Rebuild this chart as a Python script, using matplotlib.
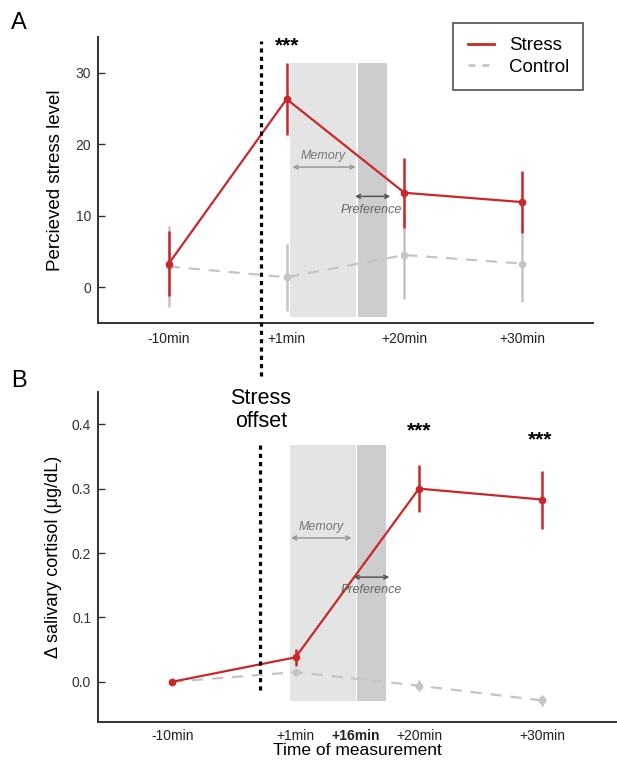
import matplotlib.pyplot as plt
import numpy as np

plt.rcParams['font.family'] = ['Liberation Sans', 'DejaVu Sans']

# ---- data ----
labels_a = ['-10min', '+1min', '+20min', '+30min']
stress_a = [3.3, 26.3, 13.2, 11.9]
stress_a_err = [4.5, 5.0, 4.9, 4.3]
control_a = [2.9, 1.4, 4.5, 3.3]
control_a_err = [5.6, 4.7, 6.2, 5.3]

labels_b = ['-10min', '+1min', '+16min', '+20min', '+30min']
stress_b = [0.0, 0.038, 0.300, 0.283]
stress_b_err = [0.0, 0.013, 0.037, 0.045]
control_b = [0.0, 0.015, -0.006, -0.029]
control_b_err = [0.0, 0.005, 0.008, 0.008]

RED = '#c8282a'
GREY = '#c4c4c4'
LIGHT = '#e4e4e4'
DARK = '#cdcdcd'
SPINE = '#333333'


def style_axes(ax, xpad):
    for s in ['top', 'right']:
        ax.spines[s].set_visible(False)
    for s in ['left', 'bottom']:
        ax.spines[s].set_color(SPINE)
        ax.spines[s].set_linewidth(1.4)
    ax.tick_params(axis='y', direction='in', length=5, width=1, colors=SPINE,
                   labelsize=10, pad=5)
    ax.tick_params(axis='x', length=0, labelsize=10, pad=xpad, colors='#222222')


def plot_series(ax, x, stress, stress_err, control, control_err):
    ax.errorbar(x, control, yerr=control_err, color=GREY, ls=(0, (5, 4)), lw=1.6,
                marker='o', ms=4.5, elinewidth=1.8, capsize=0, zorder=3)
    ax.errorbar(x, stress, yerr=stress_err, color=RED, ls='-', lw=1.6,
                marker='o', ms=4.5, elinewidth=1.8, capsize=0, zorder=4)


def draw_windows(ax, light, dark, y0, y1):
    ax.fill_between(light, y0, y1, color=LIGHT, lw=0, zorder=1)
    ax.fill_between(dark, y0, y1, color=DARK, lw=0, zorder=1)


def arrow(ax, x0, x1, y, color):
    ax.annotate('', xy=(x0, y), xytext=(x1, y),
                arrowprops=dict(arrowstyle='<->', color=color, lw=1.1,
                                mutation_scale=7, shrinkA=0, shrinkB=0),
                zorder=2)


fig = plt.figure(figsize=(6.17, 7.63), dpi=100)

# ---- panel A ----
ax1 = fig.add_axes([0.159, 0.5767, 0.802, 0.375])
xa = np.arange(len(labels_a))
draw_windows(ax1, [1.025, 1.585], [1.61, 1.85], -4.2, 31.4)
plot_series(ax1, xa, stress_a, stress_a_err, control_a, control_a_err)
ax1.set_xlim(-0.6, 3.6)
ax1.set_ylim(-5, 35)
ax1.set_yticks([0, 10, 20, 30])
ax1.set_xticks(xa)
ax1.set_xticklabels(labels_a)
style_axes(ax1, 6.5)
ax1.set_ylabel('Percieved stress level', fontsize=13.5, labelpad=8)
ax1.axvline(0.78, ymin=-0.185, ymax=0.985, color='black', lw=2.3,
            ls=(0, (1.3, 1.3)), clip_on=False, zorder=5)
ax1.text(1.0, 33.8, '***', ha='center', va='center', fontsize=15, fontweight='bold')
arrow(ax1, 1.05, 1.585, 16.8, '#999999')
ax1.text(1.31, 18.3, 'Memory', ha='center', va='center', fontsize=9,
         style='italic', color='#777777')
arrow(ax1, 1.58, 1.88, 12.7, '#555555')
ax1.text(1.72, 10.8, 'Preference', ha='center', va='center', fontsize=9,
         style='italic', color='#666666', zorder=6)

# ---- panel B ----
ax2 = fig.add_axes([0.159, 0.0537, 0.840, 0.4325])
xb = np.arange(len(stress_b))
draw_windows(ax2, [0.956, 1.486], [1.50, 1.735], -0.030, 0.367)
plot_series(ax2, xb, stress_b, stress_b_err, control_b, control_b_err)
ax2.set_xlim(-0.6, 3.6)
ax2.set_ylim(-0.0625, 0.45)
ax2.set_yticks([0.0, 0.1, 0.2, 0.3, 0.4])
ax2.set_yticklabels(['0.0', '0.1', '0.2', '0.3', '0.4'])
ax2.set_xticks([0, 1, 1.49, 2, 3])
ax2.set_xticklabels(labels_b)
style_axes(ax2, 5)
ax2.get_xticklabels()[2].set_fontweight('bold')
ax2.set_ylabel('\u0394 salivary cortisol (\u03bcg/dL)', fontsize=13, labelpad=7)
ax2.set_xlabel('Time of measurement', fontsize=12.5, labelpad=0)
ax2.axvline(0.715, ymin=(0.367 + 0.0625) / 0.5125, ymax=(-0.016 + 0.0625) / 0.5125,
            color='black', lw=2.3, ls=(0, (1.3, 1.3)), zorder=5)
ax2.text(2.0, 0.389, '***', ha='center', va='center', fontsize=15, fontweight='bold')
ax2.text(2.98, 0.375, '***', ha='center', va='center', fontsize=15, fontweight='bold')
arrow(ax2, 0.964, 1.454, 0.2234, '#999999')
ax2.text(1.21, 0.241, 'Memory', ha='center', va='center', fontsize=9,
         style='italic', color='#777777')
arrow(ax2, 1.47, 1.76, 0.1625, '#555555')
ax2.text(1.61, 0.142, 'Preference', ha='center', va='center', fontsize=9,
         style='italic', color='#666666', zorder=6)

fig.text(0.423, 0.4626, 'Stress\noffset', ha='center', va='center', fontsize=15.5,
         linespacing=1.15)

# legend
h1, = ax1.plot([], [], color=RED, lw=2)
h2, = ax1.plot([], [], color=GREY, lw=2, ls=(0, (2.5, 2.5)))
leg = fig.legend([h1, h2], ['Stress', 'Control'], loc='upper right',
                 bbox_to_anchor=(0.945, 0.970), borderaxespad=0, fontsize=13.5,
                 fancybox=False, handlelength=1.4, labelspacing=0.25,
                 borderpad=0.75, handletextpad=0.8)
leg.get_frame().set_edgecolor('#222222')
leg.get_frame().set_linewidth(1.2)

fig.text(0.018, 0.970, 'A', fontsize=17, va='center', ha='left')
fig.text(0.018, 0.501, 'B', fontsize=17, va='center', ha='left')

fig.savefig('out.png', dpi=100)
